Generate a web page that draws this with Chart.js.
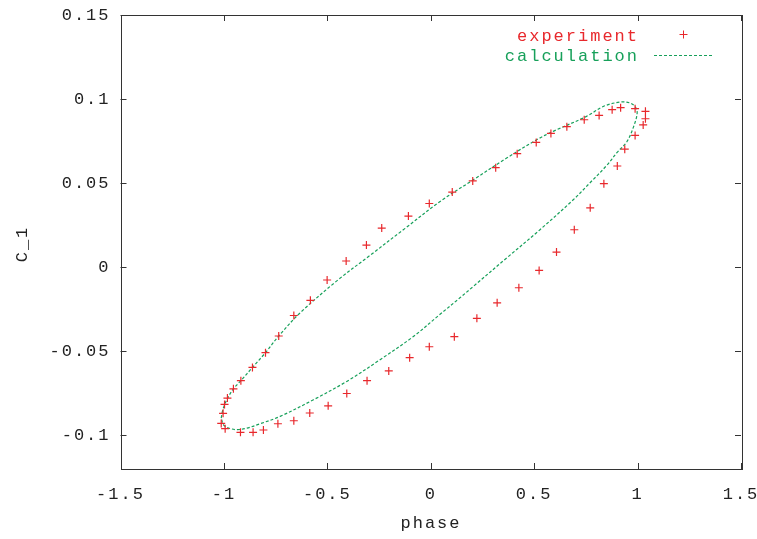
<!DOCTYPE html>
<html lang="en">
<head>
    <title>C_1 vs phase</title>
    <script src="https://cdn.jsdelivr.net/npm/chart.js"></script>
    <style>
        html, body { margin: 0; padding: 0; background: #fff; }
        #wrap { width: 757px; height: 539px; }
    </style>
</head>
<body>
    <div id="wrap"><canvas id="myChart" width="757" height="539"></canvas></div>

    <script>
        // measured points (experiment)
        const phaseExp = [-1.013, -1.004, -0.997, -0.983, -0.954, -0.918, -0.862, -0.799, -0.735, -0.662,
            -0.582, -0.501, -0.409, -0.311, -0.237, -0.108, -0.007, 0.104, 0.203, 0.314,
            0.418, 0.510, 0.581, 0.658, 0.742, 0.814, 0.877, 0.918, 0.988, 1.038,
            1.038, 1.027, 0.988, 0.938, 0.902, 0.837, 0.771, 0.694, 0.608, 0.524,
            0.426, 0.321, 0.223, 0.114, -0.007, -0.102, -0.203, -0.308, -0.406, -0.496,
            -0.585, -0.662, -0.739, -0.809, -0.859, -0.920, -0.994];
        const c1Exp = [-0.0929, -0.0869, -0.0816, -0.0778, -0.0723, -0.0675, -0.0596, -0.0508, -0.0409, -0.0287,
            -0.0197, -0.0076, 0.0037, 0.0132, 0.0233, 0.0304, 0.0379, 0.0447, 0.0513, 0.0592,
            0.0675, 0.0742, 0.0796, 0.0836, 0.0877, 0.0903, 0.0937, 0.0949, 0.0943, 0.0927,
            0.0883, 0.0846, 0.0784, 0.0702, 0.0602, 0.0497, 0.0353, 0.0223, 0.0090, -0.0019,
            -0.0122, -0.0212, -0.0304, -0.0413, -0.0473, -0.0538, -0.0617, -0.0675, -0.0751, -0.0824,
            -0.0867, -0.0913, -0.0931, -0.0968, -0.0982, -0.0982, -0.0960];

        // calculated loop
        const phaseCalc = [-1.013, -1.005, -0.986, -0.954, -0.918, -0.862, -0.799, -0.735, -0.632, -0.447,
            -0.293, -0.124, 0.045, 0.206, 0.367, 0.512, 0.592, 0.753, 0.834, 0.914,
            0.963, 0.987, 0.998, 0.979, 0.948, 0.900, 0.850, 0.769, 0.689, 0.528,
            0.367, 0.206, 0.141, 0.045, -0.084, -0.245, -0.406, -0.567, -0.728, -0.825,
            -0.889, -0.937, -0.978, -1.002, -1.013];
        const c1Calc = [-0.0897, -0.0847, -0.0788, -0.0723, -0.0675, -0.0596, -0.0508, -0.0409, -0.0272, -0.0074,
            0.0071, 0.0231, 0.0391, 0.0520, 0.0649, 0.0758, 0.0808, 0.0897, 0.0956, 0.0982,
            0.0977, 0.0956, 0.0917, 0.0830, 0.0746, 0.0681, 0.0604, 0.0501, 0.0401, 0.0223,
            0.0055, -0.0114, -0.0182, -0.0280, -0.0412, -0.0550, -0.0679, -0.0788, -0.0887, -0.0931,
            -0.0957, -0.0966, -0.0956, -0.0937, -0.0897];

        const xTicks = [-1.5, -1, -0.5, 0, 0.5, 1, 1.5];
        const yTicks = [-0.1, -0.05, 0, 0.05, 0.1, 0.15];

        const RED = '#e8282c';
        const GREEN = '#17a05a';
        const INK = '#222';
        const FAMILY = '"Liberation Mono", "DejaVu Sans Mono", monospace';
        const FONT = '17px ' + FAMILY;
        const SPACING = '2px';

        // gnuplot look: spaced mono text, box border, inward ticks, key, titles
        const gnuplotLook = {
            id: 'gnuplotLook',
            beforeUpdate(chart) { chart.ctx.letterSpacing = SPACING; },
            beforeDraw(chart) { chart.ctx.letterSpacing = SPACING; },
            afterDraw(chart) {
                const ctx = chart.ctx;
                const a = chart.chartArea;
                const xs = chart.scales.x, ys = chart.scales.y;
                ctx.save();
                ctx.strokeStyle = '#333';
                ctx.lineWidth = 1;
                ctx.strokeRect(Math.round(a.left) + 0.5, Math.round(a.top) + 0.5,
                    Math.round(a.right - a.left), Math.round(a.bottom - a.top));
                ctx.beginPath();
                xTicks.forEach(v => {
                    const px = Math.round(xs.getPixelForValue(v)) + 0.5;
                    ctx.moveTo(px, a.bottom); ctx.lineTo(px, a.bottom - 6);
                    ctx.moveTo(px, a.top); ctx.lineTo(px, a.top + 6);
                });
                yTicks.forEach(v => {
                    const py = Math.round(ys.getPixelForValue(v)) + 0.5;
                    ctx.moveTo(a.left, py); ctx.lineTo(a.left + 6, py);
                    ctx.moveTo(a.right, py); ctx.lineTo(a.right - 6, py);
                });
                ctx.stroke();

                // key
                ctx.font = FONT;
                ctx.letterSpacing = SPACING;
                ctx.textBaseline = 'middle';
                ctx.textAlign = 'right';
                ctx.fillStyle = RED;
                ctx.fillText('experiment', 639, 36);
                ctx.fillStyle = GREEN;
                ctx.fillText('calculation', 639, 56);
                ctx.strokeStyle = RED;
                ctx.beginPath();
                ctx.moveTo(679.5, 34.5); ctx.lineTo(687.5, 34.5);
                ctx.moveTo(683.5, 30.5); ctx.lineTo(683.5, 38.5);
                ctx.stroke();
                ctx.strokeStyle = GREEN;
                ctx.setLineDash([3, 2]);
                ctx.beginPath();
                ctx.moveTo(654, 55.5); ctx.lineTo(713, 55.5);
                ctx.stroke();
                ctx.setLineDash([]);

                // axis titles
                ctx.fillStyle = INK;
                ctx.textAlign = 'center';
                ctx.fillText('phase', 431, 523);
                ctx.translate(22, 244);
                ctx.rotate(-Math.PI / 2);
                ctx.fillText('C_1', 0, 0);
                ctx.restore();
            }
        };

        const ctx = document.getElementById('myChart').getContext('2d');
        new Chart(ctx, {
            type: 'scatter',
            data: {
                datasets: [{
                    label: 'experiment',
                    data: phaseExp.map((x, i) => ({ x: x, y: c1Exp[i] })),
                    pointStyle: 'cross',
                    pointRadius: 4,
                    pointBorderWidth: 1.2,
                    borderColor: RED,
                    backgroundColor: RED,
                    showLine: false
                }, {
                    label: 'calculation',
                    data: phaseCalc.map((x, i) => ({ x: x, y: c1Calc[i] })),
                    showLine: true,
                    pointRadius: 0,
                    borderColor: GREEN,
                    borderWidth: 1.2,
                    borderDash: [3, 2],
                    tension: 0.35,
                    fill: false
                }]
            },
            options: {
                responsive: false,
                animation: false,
                events: [],
                layout: { padding: { left: 0, right: 16, top: 15, bottom: 0 } },
                plugins: { legend: { display: false }, tooltip: { enabled: false } },
                scales: {
                    x: {
                        type: 'linear',
                        min: -1.5, max: 1.5,
                        afterBuildTicks: s => { s.ticks = xTicks.map(v => ({ value: v })); },
                        afterFit: s => { s.height = 70; s.paddingLeft = 0; s.paddingRight = 0; },
                        grid: { display: false, drawTicks: false },
                        border: { display: false },
                        ticks: {
                            autoSkip: false, maxRotation: 0, padding: 15,
                            color: INK,
                            font: { family: FAMILY, size: 17 },
                            callback: v => String(v)
                        }
                    },
                    y: {
                        type: 'linear',
                        min: -0.12, max: 0.15,
                        afterBuildTicks: s => { s.ticks = yTicks.map(v => ({ value: v })); },
                        afterFit: s => { s.width = 120.5; s.paddingTop = 0; s.paddingBottom = 0; },
                        grid: { display: false, drawTicks: false },
                        border: { display: false },
                        ticks: {
                            autoSkip: false, padding: 10,
                            color: INK,
                            font: { family: FAMILY, size: 17 },
                            callback: v => String(v)
                        }
                    }
                }
            },
            plugins: [gnuplotLook]
        });
    </script>
</body>
</html>
